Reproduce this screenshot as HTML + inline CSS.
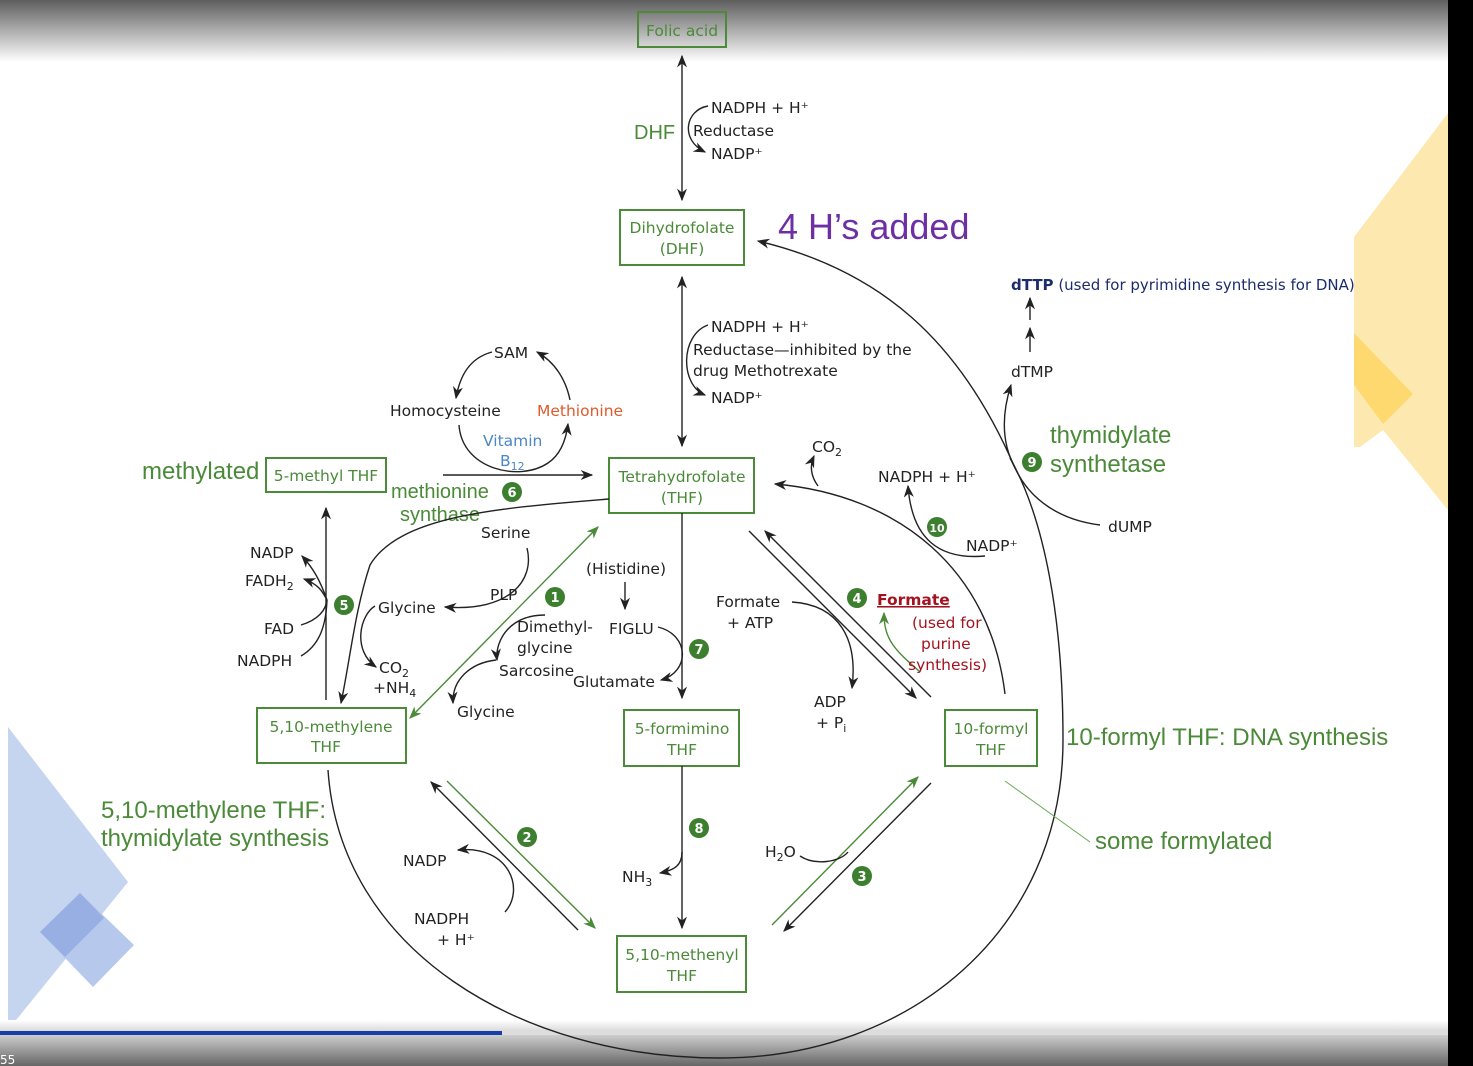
<!DOCTYPE html>
<html><head><meta charset="utf-8"><style>
html,body{margin:0;padding:0;width:1473px;height:1066px;overflow:hidden;background:#fff}
svg{display:block}
text{font-family:"DejaVu Sans","Liberation Sans",sans-serif;font-size:15.5px;fill:#222}
.g{fill:#4a8a38}
.gl{font-family:"Liberation Sans",sans-serif;font-size:24px;fill:#4a8a38}
.bx{fill:none;stroke:#4a8a38;stroke-width:2}
.l{fill:none;stroke:#222;stroke-width:1.4}
.lg{fill:none;stroke:#4a8a38;stroke-width:1.4}
.n{fill:#3c7f2e}
.nt{fill:#fff;font-size:13px;font-weight:bold}
</style></head><body>
<svg width="1473" height="1066" viewBox="0 0 1473 1066" xmlns="http://www.w3.org/2000/svg">
<defs>
<linearGradient id="top" x1="0" y1="0" x2="0" y2="1"><stop offset="0" stop-color="#5e5e5e"/><stop offset="1" stop-color="#fff"/></linearGradient>
<linearGradient id="bot" x1="0" y1="0" x2="0" y2="1"><stop offset="0" stop-color="#fff"/><stop offset="1" stop-color="#666"/></linearGradient>
<marker id="a" viewBox="0 0 10 10" refX="9" refY="5" markerWidth="9" markerHeight="9" orient="auto-start-reverse"><path d="M0,1 L10,5 L0,9 L3,5z" fill="#222"/></marker>
<marker id="ag" viewBox="0 0 10 10" refX="9" refY="5" markerWidth="9" markerHeight="9" orient="auto-start-reverse"><path d="M0,1 L10,5 L0,9 L3,5z" fill="#4a8a38"/></marker>
</defs>
<rect x="0" y="0" width="1473" height="62" fill="url(#top)"/>
<rect x="1448" y="0" width="25" height="1066" fill="#000"/>
<polygon points="1354,237 1448,113 1448,510 1383,430 1360,447 1354,447" fill="#fde9b0"/>
<polygon points="1354,333 1413,394 1383,424 1354,385" fill="#fdd970"/>
<polygon points="8,727 128,882 8,1030" fill="#c5d4ef"/>
<polygon points="40,932 80,893 134,945 93,987" fill="#b6c8ec"/>
<polygon points="40,932 80,893 104,918 65,957" fill="#98afe3"/>
<rect x="0" y="1020" width="1448" height="46" fill="url(#bot)"/>
<rect x="0" y="1031" width="1448" height="4" fill="#ddd"/>
<rect x="0" y="1031" width="502" height="4" fill="#1a3ea8"/>
<text x="0" y="1064" style="font-size:12px;fill:#fff">55</text>

<path class="l" d="M1010,458 C1045,520 1063,620 1063,740 C1063,930 910,1058 720,1058 C520,1058 340,950 328,770" />
<path class="l" marker-end="url(#a)" d="M1015,468 C960,340 880,270 758,241"/>
<path class="l" d="M1100,525 C1060,520 1030,500 1015,468 C1000,440 1003,410 1011,385" marker-end="url(#a)"/>
<line class="l" x1="1030" y1="352" x2="1030" y2="328" marker-end="url(#a)"/>
<line class="l" x1="1030" y1="320" x2="1030" y2="298" marker-end="url(#a)"/>

<rect class="bx" x="638" y="12" width="88" height="35"/>
<text class="g" x="682" y="36" text-anchor="middle">Folic acid</text>
<rect class="bx" x="620" y="210" width="124" height="55"/>
<text class="g" x="682" y="233" text-anchor="middle">Dihydrofolate</text>
<text class="g" x="682" y="254" text-anchor="middle">(DHF)</text>
<rect class="bx" x="609" y="458" width="145" height="55"/>
<text class="g" x="682" y="482" text-anchor="middle">Tetrahydrofolate</text>
<text class="g" x="682" y="503" text-anchor="middle">(THF)</text>
<rect class="bx" x="266" y="458" width="120" height="34"/>
<text class="g" x="326" y="481" text-anchor="middle">5-methyl THF</text>
<rect class="bx" x="257" y="708" width="149" height="55"/>
<text class="g" x="331" y="732" text-anchor="middle">5,10-methylene</text>
<text class="g" x="326" y="752" text-anchor="middle">THF</text>
<rect class="bx" x="624" y="710" width="115" height="56"/>
<text class="g" x="682" y="734" text-anchor="middle">5-formimino</text>
<text class="g" x="682" y="755" text-anchor="middle">THF</text>
<rect class="bx" x="945" y="710" width="92" height="56"/>
<text class="g" x="991" y="734" text-anchor="middle">10-formyl</text>
<text class="g" x="991" y="755" text-anchor="middle">THF</text>
<rect class="bx" x="617" y="936" width="129" height="56"/>
<text class="g" x="682" y="960" text-anchor="middle">5,10-methenyl</text>
<text class="g" x="682" y="981" text-anchor="middle">THF</text>

<line class="l" x1="682" y1="200" x2="682" y2="56" marker-start="url(#a)" marker-end="url(#a)"/>
<path class="l" d="M708,106 C685,110 680,140 705,152" marker-end="url(#a)"/>
<text x="711" y="113">NADPH + H⁺</text>
<text x="693" y="136">Reductase</text>
<text x="711" y="159">NADP⁺</text>
<text class="gl" x="634" y="139" style="font-size:20px">DHF</text>
<line class="l" x1="682" y1="446" x2="682" y2="277" marker-start="url(#a)" marker-end="url(#a)"/>
<path class="l" d="M708,325 C680,335 680,385 705,395" marker-end="url(#a)"/>
<text x="711" y="332">NADPH + H⁺</text>
<text x="693" y="355">Reductase—inhibited by the</text>
<text x="693" y="376">drug Methotrexate</text>
<text x="711" y="403">NADP⁺</text>
<text x="778" y="239" style="font-family:'Liberation Sans',sans-serif;font-size:36px;fill:#6d2fa3">4 H’s added</text>

<line class="l" x1="682" y1="513" x2="682" y2="698" marker-end="url(#a)"/>
<line class="l" x1="682" y1="766" x2="682" y2="928" marker-end="url(#a)"/>
<path class="l" d="M682,852 C682,865 675,870 660,873" marker-end="url(#a)"/>
<text x="622" y="882">NH<tspan dy="4" style="font-size:11px">3</tspan></text>
<circle class="n" cx="699" cy="828" r="10"/><text class="nt" x="699" y="833" text-anchor="middle">8</text>

<path class="l" d="M492,352 C470,358 460,375 456,398" marker-end="url(#a)"/>
<text x="494" y="358">SAM</text>
<path class="l" d="M570,400 C566,380 555,362 537,352" marker-end="url(#a)"/>
<text x="390" y="416">Homocysteine</text>
<text x="537" y="416" style="fill:#e05a2c">Methionine</text>
<path class="l" d="M459,425 C462,470 520,482 548,463 C560,455 566,440 568,424" marker-end="url(#a)"/>
<text x="483" y="446" style="fill:#4c86c6">Vitamin</text>
<text x="500" y="466" style="fill:#4c86c6">B<tspan dy="4" style="font-size:11px">12</tspan></text>
<line class="l" x1="443" y1="475" x2="592" y2="475" marker-end="url(#a)"/>
<text class="gl" x="142" y="479">methylated</text>
<text class="gl" x="391" y="498" style="font-size:20px">methionine</text>
<text class="gl" x="400" y="521" style="font-size:20px">synthase</text>
<circle class="n" cx="512" cy="492" r="10"/><text class="nt" x="512" y="497" text-anchor="middle">6</text>

<path class="l" d="M609,499 C500,508 400,515 370,565 C355,610 350,660 341,703" marker-end="url(#a)"/>
<line class="l" x1="326" y1="700" x2="326" y2="508" marker-end="url(#a)"/>
<path class="l" d="M327,600 C320,580 313,568 302,556" marker-end="url(#a)"/>
<path class="l" d="M327,600 C323,593 320,585 304,579" marker-end="url(#a)"/>
<path class="l" d="M301,625 C318,620 326,610 327,600"/>
<path class="l" d="M301,656 C320,645 326,625 327,600"/>
<text x="250" y="558">NADP</text>
<text x="245" y="586">FADH<tspan dy="4" style="font-size:11px">2</tspan></text>
<text x="264" y="634">FAD</text>
<text x="237" y="666">NADPH</text>
<circle class="n" cx="344" cy="605" r="10"/><text class="nt" x="344" y="610" text-anchor="middle">5</text>
<path class="l" d="M375,606 C360,615 352,650 376,667" marker-end="url(#a)"/>
<text x="378" y="613">Glycine</text>
<text x="379" y="673">CO<tspan dy="4" style="font-size:11px">2</tspan></text>
<text x="373" y="693">+NH<tspan dy="4" style="font-size:11px">4</tspan></text>
<line class="lg" x1="410" y1="718" x2="598" y2="527" marker-start="url(#ag)" marker-end="url(#ag)"/>
<circle class="n" cx="555" cy="597" r="10"/><text class="nt" x="555" y="602" text-anchor="middle">1</text>
<text x="481" y="538">Serine</text>
<text x="490" y="600">PLP</text>
<path class="l" d="M527,548 C535,580 510,612 445,607" marker-end="url(#a)"/>
<path class="l" d="M545,615 C510,615 495,640 497,660" marker-end="url(#a)"/>
<text x="517" y="632">Dimethyl-</text>
<text x="517" y="653">glycine</text>
<text x="499" y="676">Sarcosine</text>
<path class="l" d="M496,660 C470,663 452,680 453,703" marker-end="url(#a)"/>
<text x="457" y="717">Glycine</text>
<text x="586" y="574">(Histidine)</text>
<line class="l" x1="625" y1="582" x2="625" y2="609" marker-end="url(#a)"/>
<text x="609" y="634">FIGLU</text>
<path class="l" d="M658,627 C690,635 690,672 661,680" marker-end="url(#a)"/>
<text x="573" y="687">Glutamate</text>
<circle class="n" cx="699" cy="649" r="10"/><text class="nt" x="699" y="654" text-anchor="middle">7</text>

<line class="l" x1="749" y1="531" x2="916" y2="698" marker-end="url(#a)"/>
<line class="l" x1="931" y1="697" x2="765" y2="531" marker-end="url(#a)"/>
<text x="716" y="607">Formate</text>
<text x="727" y="628">+ ATP</text>
<path class="l" d="M792,602 C840,605 858,640 852,688" marker-end="url(#a)"/>
<text x="814" y="707">ADP</text>
<text x="816" y="728">+ P<tspan dy="4" style="font-size:11px">i</tspan></text>
<circle class="n" cx="857" cy="598" r="10"/><text class="nt" x="857" y="603" text-anchor="middle">4</text>
<text x="877" y="605" style="fill:#a5121f;font-weight:bold;text-decoration:underline">Formate</text>
<path class="lg" d="M920,672 C895,650 884,640 884,613" marker-end="url(#ag)"/>
<text x="912" y="628" style="fill:#a5121f">(used for</text>
<text x="921" y="649" style="fill:#a5121f">purine</text>
<text x="908" y="670" style="fill:#a5121f">synthesis)</text>
<path class="l" d="M1005,694 C990,570 900,495 775,484" marker-end="url(#a)"/>
<path class="l" d="M818,486 C810,475 810,465 814,456" marker-end="url(#a)"/>
<text x="812" y="452">CO<tspan dy="4" style="font-size:11px">2</tspan></text>
<path class="l" d="M985,556 C940,560 912,540 908,486" marker-end="url(#a)"/>
<text x="878" y="482">NADPH + H⁺</text>
<text x="966" y="551">NADP⁺</text>
<circle class="n" cx="937" cy="527" r="10"/><text class="nt" x="937" y="532" text-anchor="middle" style="font-size:11px">10</text>
<circle class="n" cx="1032" cy="462" r="10"/><text class="nt" x="1032" y="467" text-anchor="middle">9</text>
<text class="gl" x="1050" y="443">thymidylate</text>
<text class="gl" x="1050" y="472">synthetase</text>
<text x="1108" y="532">dUMP</text>
<text x="1011" y="377">dTMP</text>
<text x="1011" y="290" style="fill:#1d2c6b;font-size:15px"><tspan style="font-weight:bold">dTTP</tspan> (used for pyrimidine synthesis for DNA)</text>

<line class="l" x1="578" y1="930" x2="431" y2="782" marker-end="url(#a)"/>
<line class="lg" x1="447" y1="781" x2="595" y2="928" marker-end="url(#ag)"/>
<circle class="n" cx="527" cy="837" r="10"/><text class="nt" x="527" y="842" text-anchor="middle">2</text>
<path class="l" d="M505,912 C525,890 510,845 458,850" marker-end="url(#a)"/>
<text x="403" y="866">NADP</text>
<text x="414" y="924">NADPH</text>
<text x="437" y="945">+ H⁺</text>
<line class="lg" x1="772" y1="925" x2="918" y2="777" marker-end="url(#ag)"/>
<line class="l" x1="931" y1="783" x2="784" y2="931" marker-end="url(#a)"/>
<circle class="n" cx="862" cy="876" r="10"/><text class="nt" x="862" y="881" text-anchor="middle">3</text>
<path class="l" d="M800,856 C815,866 840,862 848,852"/>
<text x="765" y="857">H<tspan dy="4" style="font-size:11px">2</tspan><tspan dy="-4">O</tspan></text>

<text class="gl" x="1066" y="745">10-formyl THF: DNA synthesis</text>
<line x1="1005" y1="781" x2="1090" y2="842" stroke="#6aaa55" stroke-width="1"/>
<text class="gl" x="1095" y="849">some formylated</text>
<text class="gl" x="101" y="818">5,10-methylene THF:</text>
<text class="gl" x="101" y="846">thymidylate synthesis</text>
</svg>
</body></html>
